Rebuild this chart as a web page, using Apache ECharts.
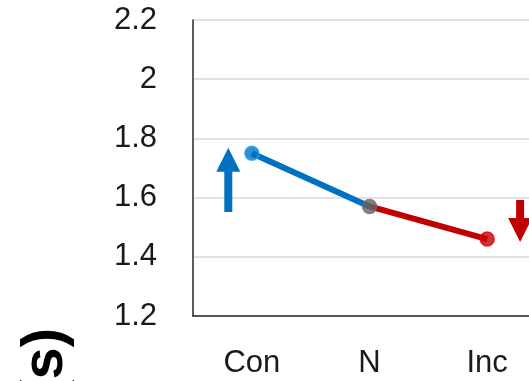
<!DOCTYPE html>
<html>
<head>
<meta charset="utf-8">
<script src="https://cdn.jsdelivr.net/npm/echarts@6/dist/echarts.min.js"></script>
<style>
  html, body { margin: 0; padding: 0; background: #ffffff; overflow: hidden; }
  /* the plot area continues past the right edge of the page */
  #chart { width: 546px; height: 381px; }
</style>
</head>
<body>
<div id="chart"></div>
<script>
// Mean response time per condition
const categories = ['Con', 'N', 'Inc'];
const rtValues = [1.75, 1.57, 1.46];
const yTicks = [1.2, 1.4, 1.6, 1.8, 2.0, 2.2];
const axisTitle = 'RT (s)';
// Direction arrows: [category index, offset in bands, start value, tip value]
const upArrow = [0, -0.2, 1.551, 1.768];
const downArrow = [2, 0.28, 1.592, 1.45];

const BLUE = '#0070C0';
const RED = '#C00000';
const GRAY = '#636363';
const FONT = '"Liberation Sans", Arial, sans-serif';

const blueSegment = rtValues.map((v, i) => (i <= 1 ? v : null));
const redSegment = rtValues.map((v, i) => (i >= 1 ? v : null));
const markerStyles = [
  { color: BLUE, borderColor: '#1EA7EC' },
  { color: GRAY, borderColor: '#6E6E6E' },
  { color: RED, borderColor: '#EE0000' }
];

const chart = echarts.init(document.getElementById('chart'), null, { renderer: 'canvas' });

chart.setOption({
  animation: false,
  backgroundColor: '#ffffff',
  grid: { left: 193, top: 20, bottom: 65, right: 0, containLabel: false, outerBoundsMode: 'none' },
  xAxis: {
    type: 'category',
    data: categories,
    boundaryGap: true,
    axisLine: { show: true, lineStyle: { color: '#262626', width: 1.5 } },
    axisTick: { show: false },
    axisLabel: { color: '#1a1a1a', fontSize: 31, fontFamily: FONT, margin: 32 },
    splitLine: { show: false }
  },
  yAxis: {
    type: 'value',
    min: yTicks[0],
    max: yTicks[yTicks.length - 1],
    interval: 0.2,
    axisLine: { show: true, lineStyle: { color: '#262626', width: 1.5 } },
    axisTick: { show: false },
    axisLabel: {
      color: '#1a1a1a', fontSize: 31, fontFamily: FONT, margin: 36,
      formatter: v => String(Math.round(v * 10) / 10)
    },
    splitLine: { show: true, lineStyle: { color: '#D9D9D9', width: 1.5 } }
  },
  series: [
    {
      type: 'line', data: blueSegment, showSymbol: false, connectNulls: false,
      lineStyle: { color: BLUE, width: 6 }, z: 2
    },
    {
      type: 'line', data: redSegment, showSymbol: false, connectNulls: false,
      lineStyle: { color: RED, width: 6 }, z: 2
    },
    {
      type: 'scatter', symbol: 'circle', symbolSize: 14, z: 3,
      data: rtValues.map((v, i) => ({
        value: v,
        itemStyle: { color: markerStyles[i].color, borderColor: markerStyles[i].borderColor, borderWidth: 1.5 }
      }))
    }
  ]
});

// Block arrow polygon from a data-space start point to its tip
function arrowShape(spec, color) {
  const [idx, offset, fromVal, toVal] = spec;
  const p0 = chart.convertToPixel({ gridIndex: 0 }, [0, fromVal]);
  const p1 = chart.convertToPixel({ gridIndex: 0 }, [1, fromVal]);
  const pc = chart.convertToPixel({ gridIndex: 0 }, [idx, fromVal]);
  const tip = chart.convertToPixel({ gridIndex: 0 }, [idx, toVal]);
  const x = pc[0] + offset * (p1[0] - p0[0]);
  const y0 = pc[1];
  const y1 = tip[1];
  const dir = y1 < y0 ? -1 : 1;
  const headLen = 24, headHalf = 12, shaftHalf = 4;
  const neck = y1 - dir * headLen;
  return {
    type: 'polygon',
    shape: {
      points: [
        [x - shaftHalf, y0], [x - shaftHalf, neck], [x - headHalf, neck],
        [x, y1], [x + headHalf, neck], [x + shaftHalf, neck], [x + shaftHalf, y0]
      ]
    },
    style: { fill: color },
    z: 10
  };
}

chart.setOption({
  graphic: [
    arrowShape(upArrow, BLUE),
    arrowShape(downArrow, RED),
    {
      type: 'text',
      x: 46, y: 328,
      rotation: Math.PI / 2,
      style: {
        text: axisTitle,
        font: 'bold 58px ' + FONT,
        fill: '#000000',
        align: 'right',
        verticalAlign: 'middle'
      },
      z: 10
    }
  ]
});
</script>
</body>
</html>
